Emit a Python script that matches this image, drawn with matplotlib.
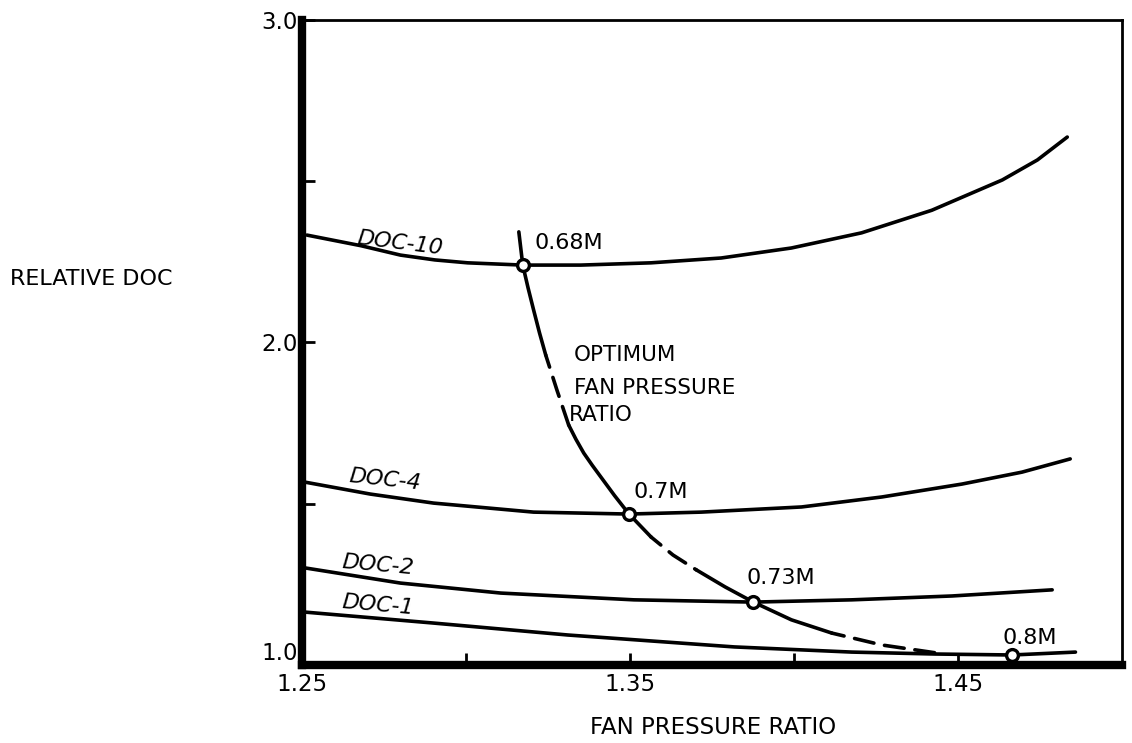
import matplotlib
matplotlib.use("Agg")
import matplotlib.pyplot as plt

# DOC curves (fan pressure ratio vs relative DOC)
doc10_x = [1.2515, 1.268, 1.280, 1.2905, 1.3005, 1.3173, 1.335, 1.3564, 1.3778, 1.3992,
           1.4206, 1.442, 1.4635, 1.4742, 1.4833]
doc10_y = [2.333, 2.300, 2.271, 2.256, 2.247, 2.240, 2.240, 2.247, 2.262, 2.293,
           2.340, 2.410, 2.504, 2.566, 2.637]

doc4_x = [1.2509, 1.2708, 1.2901, 1.3206, 1.3497, 1.3717, 1.4023, 1.4268, 1.4512, 1.4695, 1.4842]
doc4_y = [1.567, 1.530, 1.502, 1.474, 1.468, 1.474, 1.490, 1.521, 1.561, 1.598, 1.639]

doc2_x = [1.2509, 1.280, 1.3106, 1.3512, 1.3876, 1.4176, 1.4482, 1.4787]
doc2_y = [1.301, 1.254, 1.223, 1.202, 1.195, 1.202, 1.214, 1.233]

doc1_x = [1.2509, 1.2901, 1.331, 1.3818, 1.4176, 1.443, 1.4665, 1.4858]
doc1_y = [1.164, 1.130, 1.093, 1.056, 1.040, 1.034, 1.031, 1.040]

# optimum fan pressure ratio locus
opt_x = [1.3161, 1.3173, 1.3189, 1.3206, 1.3224, 1.3243, 1.3277, 1.3313, 1.3335, 1.3359,
         1.3385, 1.3411, 1.3453, 1.3497, 1.3564, 1.3631, 1.3702, 1.3790, 1.3876, 1.3992,
         1.4115, 1.4268, 1.4436]
opt_y = [2.343, 2.240, 2.170, 2.101, 2.030, 1.961, 1.853, 1.744, 1.700, 1.657,
         1.619, 1.583, 1.525, 1.468, 1.397, 1.341, 1.295, 1.242, 1.195, 1.140,
         1.099, 1.062, 1.037]
# (start, end, style) index ranges along the locus
opt_parts = [(0, 5, "-"), (5, 7, "--"), (7, 14, "-"), (14, 16, "--"), (16, 20, "-"), (20, 22, "--")]

mach_x = [1.3173, 1.3497, 1.3876, 1.4665]
mach_y = [2.240, 1.468, 1.195, 1.031]
mach_labels = ["0.68M", "0.7M", "0.73M", "0.8M"]
mach_lab_x = [1.3313, 1.3595, 1.3960, 1.4720]
mach_lab_y = [2.309, 1.536, 1.270, 1.084]

doc_labels = ["DOC-10", "DOC-4", "DOC-2", "DOC-1"]
doc_lab_x = [1.2800, 1.2754, 1.2732, 1.2732]
doc_lab_y = [2.309, 1.574, 1.310, 1.186]
doc_lab_rot = [-7, -6, -5, -5]

fig = plt.figure(figsize=(11.32, 7.43), dpi=100)
ax = fig.add_axes([0.2668, 0.1050, 0.7244, 0.8681])

lw = 2.6
for xs, ys in [(doc10_x, doc10_y), (doc4_x, doc4_y), (doc2_x, doc2_y), (doc1_x, doc1_y)]:
    ax.plot(xs, ys, color="black", lw=lw, solid_capstyle="round", solid_joinstyle="round")

for i0, i1, ls in opt_parts:
    if ls == "-":
        ax.plot(opt_x[i0:i1 + 1], opt_y[i0:i1 + 1], color="black", lw=lw,
                solid_capstyle="round", solid_joinstyle="round")
    else:
        ax.plot(opt_x[i0:i1 + 1], opt_y[i0:i1 + 1], color="black", lw=lw,
                linestyle=(2, (5.5, 3)), dash_capstyle="round")

ax.plot(mach_x, mach_y, "o", ms=8.5, mfc="white", mec="black", mew=2.4, zorder=5)

for t, x, y in zip(mach_labels, mach_lab_x, mach_lab_y):
    ax.text(x, y, t, fontsize=16, ha="center", va="center")

for t, x, y, r in zip(doc_labels, doc_lab_x, doc_lab_y, doc_lab_rot):
    ax.text(x, y, t, fontsize=16, ha="center", va="center", rotation=r, style="italic")

ax.text(1.3329, 1.961, "OPTIMUM", fontsize=15.5, ha="left", va="center")
ax.text(1.3329, 1.859, "FAN PRESSURE", fontsize=15.5, ha="left", va="center")
ax.text(1.3313, 1.775, "RATIO", fontsize=15.5, ha="left", va="center")

ax.set_xlim(1.25, 1.50)
ax.set_ylim(1.0, 3.0)

ax.set_xticks([1.25, 1.30, 1.35, 1.40, 1.45])
ax.set_xticklabels(["1.25", "", "1.35", "", "1.45"])
ax.set_yticks([1.0, 1.5, 2.0, 2.5, 3.0])
ax.set_yticklabels(["1.0", "", "2.0", "", "3.0"])
ax.tick_params(direction="in", length=9, width=2, labelsize=16.5, pad=6, color="black")
ax.tick_params(axis="y", pad=3)
# the bottom y label sits just above the x axis line, clear of "1.25"
ax.get_yticklabels()[0].set_va("bottom")

ax.spines["left"].set_linewidth(6)
ax.spines["bottom"].set_linewidth(6)
ax.spines["top"].set_linewidth(2)
ax.spines["right"].set_linewidth(2)

fig.text(10 / 1132, 1 - 279 / 743, "RELATIVE DOC", fontsize=16, ha="left", va="center")
fig.text(713 / 1132, 1 - 727 / 743, "FAN PRESSURE RATIO", fontsize=16.5, ha="center", va="center")

fig.savefig("out.png", dpi=100)
